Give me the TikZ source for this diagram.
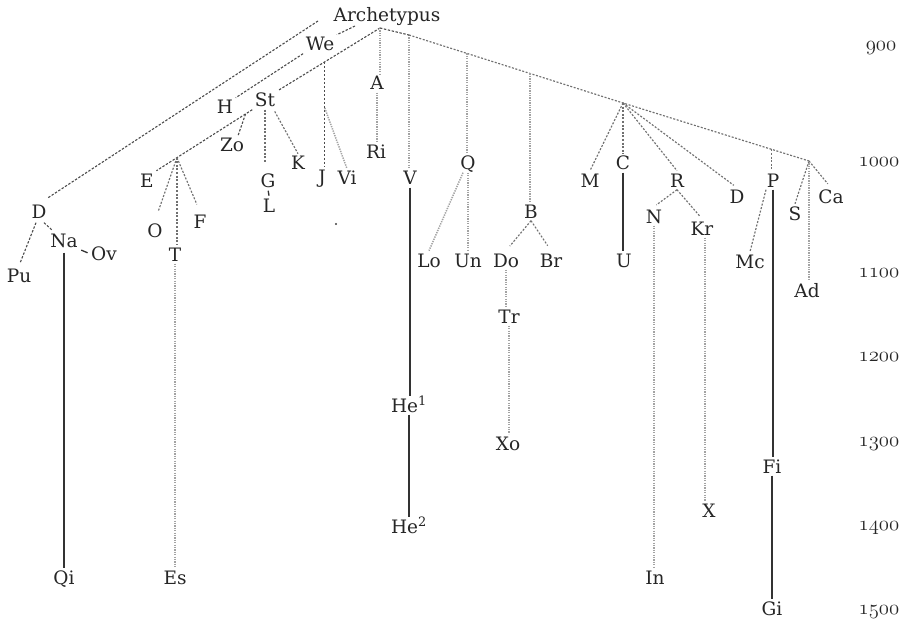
\documentclass[tikz,border=0pt]{standalone}
\usepackage{fontspec}
\setmainfont{DejaVu Serif}
\usetikzlibrary{calc}
\newcommand{\osn}[1]{{\usefont{OML}{cmm}{m}{it}#1}}
\begin{document}
\begin{tikzpicture}[x=1pt,y=-1pt,
  nd/.style={font=\fontsize{18.5}{22}\selectfont, text=black!85, inner sep=2.5pt, text height=13.6pt, text depth=0pt, anchor=base},
  yr/.style={font=\fontsize{22}{24}\selectfont, text=black!85, anchor=base, inner sep=1pt},
  dk/.style={draw=black!70, line width=1.1pt, dash pattern=on 2.4pt off 1.6pt},
  md/.style={draw=black!56, line width=1.15pt, dash pattern=on 2pt off 1.6pt},
  lt/.style={draw=black!36, line width=1.5pt, dash pattern=on 1.3pt off 1.1pt},
  sl/.style={draw=black!80, line width=1.3pt}]
\fill[white] (0,0) rectangle (913,623);
\useasboundingbox (0,0) rectangle (913,623);

% nodes
\node[nd] (arch) at (387,22) {Archetypus};
\node[nd] (We) at (320,51) {We};
\node[nd] (H) at (225,114) {H};
\node[nd] (St) at (265,107) {St};
\node[nd] (Zo) at (232,152) {Zo};
\node[nd] (E) at (147,187) {E};
\node[nd] (Dl) at (39,218) {D};
\node[nd] (Na) at (64,247) {Na};
\node[nd] (Ov) at (104,260) {Ov};
\node[nd] (Pu) at (19,282) {Pu};
\node[nd] (O) at (155,237) {O};
\node[nd] (F) at (200,228) {F};
\node[nd] (T) at (175,261) {T};
\node[nd] (Es) at (175,584) {Es};
\node[nd] (Qi) at (64,584) {Qi};
\node[nd] (G) at (268,187) {G};
\node[nd] (L) at (269,212) {L};
\node[nd] (K) at (298,170) {K};
\node[nd] (J) at (322,183) {J};
\node[nd] (Vi) at (347,185) {Vi};
\node[nd] (A) at (377,90) {A};
\node[nd] (Ri) at (376,158) {Ri};
\node[nd] (V) at (410,185) {V};
\node[nd] (He1) at (409,412) {He\textsuperscript{1}};
\node[nd] (He2) at (409,533) {He\textsuperscript{2}};
\node[nd] (Q) at (468,170) {Q};
\node[nd] (Lo) at (429,267) {Lo};
\node[nd] (Un) at (468,267) {Un};
\node[nd] (Do) at (506,267) {Do};
\node[nd] (Br) at (551,267) {Br};
\node[nd] (B) at (531,218) {B};
\node[nd] (Tr) at (509,323) {Tr};
\node[nd] (Xo) at (508,450) {Xo};
\node[nd] (M) at (590,187) {M};
\node[nd] (C) at (623,170) {C};
\node[nd] (U) at (624,267) {U};
\node[nd] (R) at (677,187) {R};
\node[nd] (Dr) at (737,204) {D};
\node[nd] (N) at (654,223) {N};
\node[nd] (Kr) at (702,235) {Kr};
\node[nd] (X) at (709,517) {X};
\node[nd] (In) at (655,584) {In};
\node[nd] (P) at (773,187) {P};
\node[nd] (S) at (795,220) {S};
\node[nd] (Ca) at (831,204) {Ca};
\node[nd] (Mc) at (750,268) {Mc};
\node[nd] (Ad) at (807,297) {Ad};
\node[nd] (Fi) at (772,473) {Fi};
\node[nd] (Gi) at (772,615) {Gi};

% year scale
\node[yr] (y900) at (881,51) {\osn{900}};
\node[yr] (y1000) at (879,167) {\osn{1000}};
\node[yr] (y1100) at (879,277) {\osn{1100}};
\node[yr] (y1200) at (879,361) {\osn{1200}};
\node[yr] (y1300) at (879,446) {\osn{1300}};
\node[yr] (y1400) at (879,530) {\osn{1400}};
\node[yr] (y1500) at (879,614) {\osn{1500}};

% hub coordinates
\coordinate (apex) at (380,28);
\coordinate (aD) at (318,21);
\coordinate (aW) at (355,26);
\coordinate (vtop) at (409,35);
\coordinate (hubC) at (623,103);
\coordinate (hubS) at (809,161);
\coordinate (jb) at ($(apex)!0.54!(St.north east)$);
\coordinate (jend) at (jb |- J.north);
\coordinate (vb) at ($(jb)!0.44!(jend)$);
\coordinate (hubE) at ($(St.south west)!0.786!(E.north east)$);
\coordinate (zb) at ($(St.south west)!0.07!(E.north east)$);
\coordinate (qb) at ($(vtop)!0.27!(hubC)$);
\coordinate (bb) at ($(vtop)!0.565!(hubC)$);
\coordinate (pb) at ($(hubC)!0.80!(hubS)$);
\coordinate (krb) at ($(Kr.south)+(3,0)$);
\coordinate (qlo) at ($(Q.south)+(-5,0)$);
\coordinate (pmc) at ($(P.south)+(-7,0)$);
\coordinate (dpu) at ($(Dl.south)+(-3,2)$);
\coordinate (dna) at ($(Dl.south)+(5,2)$);
\coordinate (nad) at ($(Na.north west)+(5,0)$);
\coordinate (nab) at ($(Na.south)+(0,3)$);
\coordinate (zot) at ($(Zo.north)+(6,0)$);
\coordinate (dtop) at ($(Dl.north east)+(-1,-4)$);
\coordinate (stk) at ($(St.south east)+(-4,0)$);

% upper dark branches
\draw[dk] (aD) -- (dtop);
\draw[dk] (aW) -- (We.north east);
\draw[dk] (We.south west) -- (H.north east);
\draw[dk] (apex) -- (St.north east);
\draw[dk] (jb) -- (jend);
\draw[lt] (vb) -- (Vi.north);
\draw[dk] (St.south west) -- (E.north east);
\draw[dk] (zb) -- (zot);
\draw[md, shorten >=10pt] (hubE) -- (O.north);
\draw[md] (hubE) -- (hubE |- T.north);
\draw[md, shorten >=8pt] (hubE) -- (F.north);
\draw[md, shorten >=8pt] (St.south) -- (St.south |- G.north);
\draw[md, shorten <=2pt] (stk) -- (K.north);
\draw[sl, shorten <=1pt] (G.south) -- (L.north);
\draw[lt] (T.south) -- (Es.north);

% D group
\draw[dk, shorten >=3pt] (dpu) -- (Pu.north);
\draw[dk] (dna) -- (nad);
\draw[sl, shorten <=1pt, shorten >=1pt] (Na.south east) -- (Ov.west);
\draw[sl] (nab) -- (Qi.north);

% A, V
\draw[lt] (apex) -- (apex |- A.north);
\draw[lt] (A.south) -- (A.south |- Ri.north);
\draw[lt] (vtop) -- (vtop |- V.north);
\draw[sl] (V.south) -- (V.south |- He1.north);
\draw[sl] (He1.south) -- (He2.north);

% main right line
\draw[dk] (apex) -- (vtop);
\draw[md] (vtop) -- (hubC) -- (hubS);

% Q group
\draw[lt] (qb) -- (qb |- Q.north);
\draw[lt] (qlo) -- (Lo.north);
\draw[lt] (Q.south) -- (Un.north);

% B group
\draw[lt] (bb) -- (bb |- B.north);
\draw[md, shorten >=6pt] (B.south) -- (Do.north);
\draw[md, shorten >=6pt] (B.south) -- (Br.north);
\draw[lt] (Do.south) -- (Do.south |- Tr.north);
\draw[lt] (Tr.south) -- (Tr.south |- Xo.north);

% C hub
\draw[md] (hubC) -- (M.north);
\draw[md] (hubC) -- (C.north);
\draw[md] (hubC) -- (R.north);
\draw[md, shorten >=4pt] (hubC) -- (Dr.north);
\draw[sl] (C.south) -- (C.south |- U.north);
\draw[md, shorten >=3pt] (R.south) -- (N.north);
\draw[md, shorten >=3pt] (R.south) -- (Kr.north);
\draw[lt] (N.south) -- (N.south |- In.north);
\draw[lt] (krb) -- (krb |- X.north);

% P / S hub
\draw[md] (pb) -- (pb |- P.north);
\draw[md] (pmc) -- (Mc.north);
\draw[sl] (P.south) -- (P.south |- Fi.north);
\draw[sl] (Fi.south) -- (Gi.north);
\draw[md] (hubS) -- (S.north);
\draw[lt] (hubS) -- (hubS |- Ad.north);
\draw[md, shorten >=5pt] (hubS) -- (Ca.north);

% stray dot
\fill[black!75] (336,224) circle (1.1pt);
\end{tikzpicture}
\end{document}
